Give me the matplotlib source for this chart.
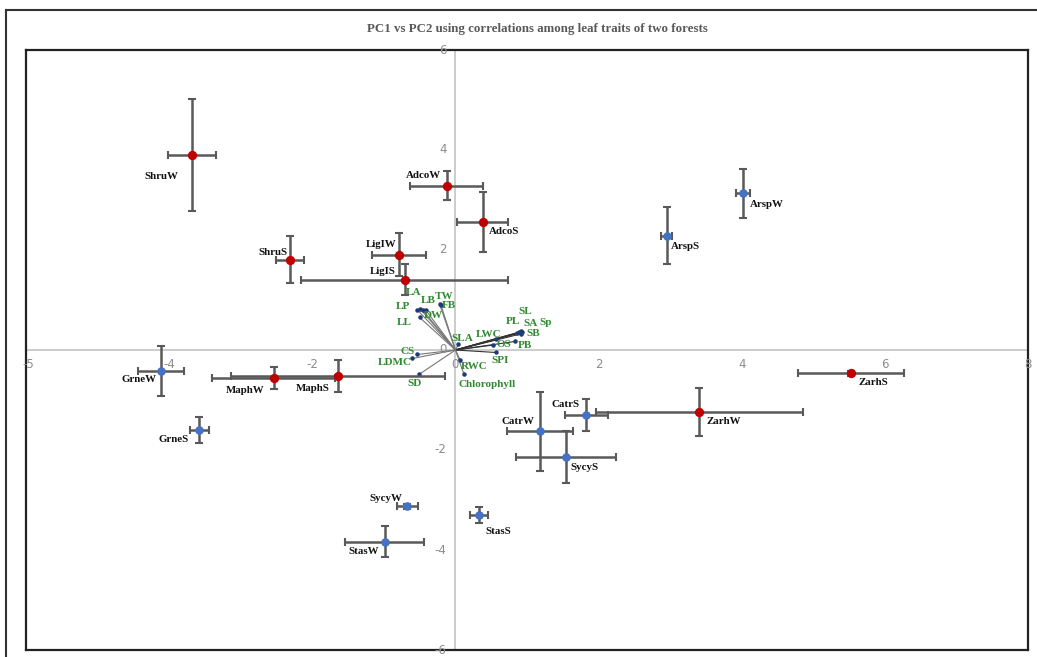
import matplotlib
matplotlib.use("Agg")
import matplotlib.pyplot as plt
from matplotlib.lines import Line2D

# site scores (mean +/- error) for the two forests
red_names = ["ShruW", "ShruS", "LigIW", "LigIS", "AdcoW", "AdcoS", "MaphW", "MaphS", "ZarhW", "ZarhS"]
red_x = [-3.68, -2.31, -0.79, -0.71, -0.12, 0.38, -2.54, -1.64, 3.41, 5.53]
red_y = [3.90, 1.80, 1.90, 1.40, 3.28, 2.55, -0.57, -0.53, -1.25, -0.47]
red_xerr = [0.34, 0.20, 0.38, 1.45, 0.51, 0.36, 0.86, 1.49, 1.44, 0.74]
red_yerr = [1.12, 0.47, 0.43, 0.31, 0.29, 0.60, 0.22, 0.32, 0.48, 0.05]

blue_names = ["ArspW", "ArspS", "GrneW", "GrneS", "CatrW", "CatrS", "SycyS", "SycyW", "StasW", "StasS"]
blue_x = [4.02, 2.95, -4.11, -3.58, 1.18, 1.83, 1.54, -0.67, -0.99, 0.33]
blue_y = [3.13, 2.28, -0.42, -1.60, -1.63, -1.30, -2.15, -3.13, -3.83, -3.30]
blue_xerr = [0.10, 0.08, 0.32, 0.13, 0.46, 0.30, 0.70, 0.15, 0.55, 0.12]
blue_yerr = [0.49, 0.57, 0.50, 0.26, 0.79, 0.32, 0.52, 0.05, 0.31, 0.16]

# trait loadings
trait_names = ["LA", "LB", "TW", "FB", "LP", "DW", "LL", "SLA", "LWC", "SL", "PL", "SA", "Sp",
               "SB", "OS", "PB", "CS", "LDMC", "SPI", "RWC", "SD", "Chlorophyll"]
trait_x = [-0.49, -0.45, -0.22, -0.20, -0.53, -0.41, -0.50, 0.04, 0.57, 0.92, 0.86, 0.89, 0.93,
           0.91, 0.53, 0.83, -0.53, -0.60, 0.57, 0.07, -0.51, 0.12]
trait_y = [0.82, 0.79, 0.91, 0.89, 0.80, 0.79, 0.65, 0.11, 0.21, 0.37, 0.34, 0.35, 0.35,
           0.32, 0.10, 0.17, -0.09, -0.17, -0.05, -0.21, -0.49, -0.49]

# label offsets in pixels (layout only)
name_off = {
    "ShruW": (-14, -22, "right"), "ShruS": (-3, 7, "right"), "LigIW": (-2, 10, "right"),
    "LigIS": (-9, 8, "right"), "AdcoW": (-6, 10, "right"), "AdcoS": (6, -9, "left"),
    "MaphW": (-9, -12, "right"), "MaphS": (-8, -12, "right"), "ZarhW": (7, -9, "left"),
    "ZarhS": (7, -9, "left"), "ArspW": (7, -11, "left"), "ArspS": (4, -11, "left"),
    "GrneW": (-5, -9, "right"), "GrneS": (-10, -10, "right"), "CatrW": (-6, 10, "right"),
    "CatrS": (-7, 10, "right"), "SycyS": (5, -10, "left"), "SycyW": (-5, 8, "right"),
    "StasW": (-6, -10, "right"), "StasS": (6, -17, "left"),
}
trait_off = {
    "LA": (-7, 16), "LB": (5, 10), "TW": (4, 8), "FB": (8, 0), "LP": (-14, 3), "DW": (7, -5),
    "LL": (-15, -5), "SLA": (4, 6), "LWC": (-8, 5), "SL": (4, 20), "PL": (-4, 11), "SA": (11, 9),
    "Sp": (24, 10), "SB": (13, 0), "OS": (11, 0), "PB": (10, -4), "CS": (-10, 3), "LDMC": (-18, -4),
    "SPI": (4, -8), "RWC": (14, -6), "SD": (-4, -9), "Chlorophyll": (23, -10),
}

serif = ["Liberation Serif", "DejaVu Serif"]
green = "#2f8a2f"
tick_gray = "#8c8c8c"

fig = plt.figure(figsize=(10.37, 6.57), dpi=100)
ax = fig.add_axes([26 / 1037, 1 - 650 / 657, 1002 / 1037, 600 / 657])
ax.set_xlim(-6, 8)
ax.set_ylim(-6, 6)
ax.set_xticks([])
ax.set_yticks([])
for s in ax.spines.values():
    s.set_color("#222222")
    s.set_linewidth(1.6)

# zero axes
ax.axhline(0, color="#c8c8c8", lw=1.3, zorder=1)
ax.axvline(0, color="#c8c8c8", lw=1.3, zorder=1)

# tick labels along the zero axes
for v in [-4, -2, 0, 2, 4, 6, 8]:
    ax.annotate(str(v), (v, 0), xytext=(0, -15), textcoords="offset pixels",
                ha="center", va="center", fontsize=8.5, color=tick_gray)
ax.annotate("-5", (-6, 0), xytext=(2, -15), textcoords="offset pixels",
            ha="center", va="center", fontsize=8.5, color=tick_gray)
for v in [-6, -4, -2, 0, 2, 4, 6]:
    ax.annotate(str(v), (0, v), xytext=(-9, 0), textcoords="offset pixels",
                ha="right", va="center", fontsize=8.5, color=tick_gray)

# trait vectors
for tx, ty in zip(trait_x, trait_y):
    c = "#333333" if tx > 0.3 else "#777777"
    ax.plot([0, tx], [0, ty], color=c, lw=0.8, zorder=2)
ax.scatter(trait_x, trait_y, s=5, color="#1f3a7a", zorder=3)
for name, tx, ty in zip(trait_names, trait_x, trait_y):
    dx, dy = trait_off[name]
    ax.annotate(name, (tx, ty), xytext=(dx, dy), textcoords="offset pixels",
                ha="center", va="center", fontsize=8, fontweight="bold",
                family=serif, color=green, zorder=4)

# site scores
ebar = dict(fmt="none", ecolor="#595959", elinewidth=1.8, capsize=3, capthick=1.5, zorder=5)
ax.errorbar(red_x, red_y, xerr=red_xerr, yerr=red_yerr, **ebar)
ax.errorbar(blue_x, blue_y, xerr=blue_xerr, yerr=blue_yerr, **ebar)
ax.scatter(red_x, red_y, s=45, color="#c00000", zorder=6, linewidths=0)
ax.scatter(blue_x, blue_y, s=38, color="#4472c4", zorder=6, linewidths=0)

for names, xs, ys in [(red_names, red_x, red_y), (blue_names, blue_x, blue_y)]:
    for name, px, py in zip(names, xs, ys):
        dx, dy, ha = name_off[name]
        ax.annotate(name, (px, py), xytext=(dx, dy), textcoords="offset pixels",
                    ha=ha, va="center", fontsize=7.8, fontweight="bold",
                    family=serif, color="#111111", zorder=7)

fig.text(537 / 1037, 1 - 29 / 657, "PC1 vs PC2 using correlations among leaf traits of two forests",
         ha="center", va="center", fontsize=9.3, fontweight="bold", family=serif, color="#595959")

# outer chart border
fig.add_artist(Line2D([6 / 1037, 6 / 1037], [0, 1 - 10 / 657], color="#333333", lw=1.5))
fig.add_artist(Line2D([6 / 1037, 1], [1 - 10 / 657, 1 - 10 / 657], color="#333333", lw=1.5))

fig.savefig("out.png", dpi=100)
